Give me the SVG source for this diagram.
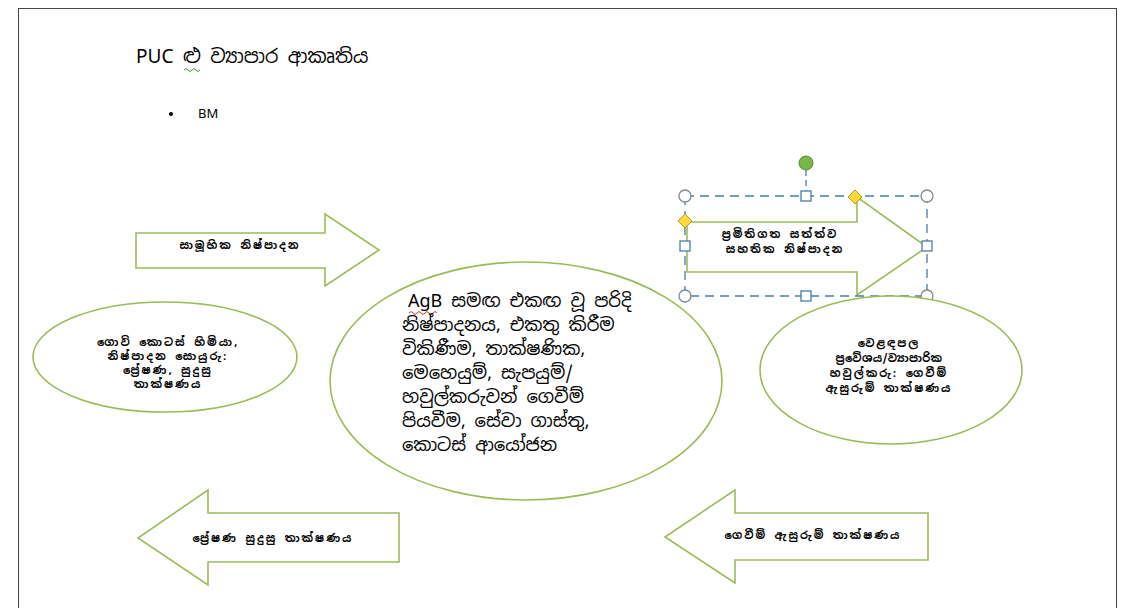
<svg xmlns="http://www.w3.org/2000/svg" width="1129" height="608" viewBox="0 0 1129 608">
<defs>
<style>
.shape{fill:#ffffff;stroke:#9bbb59;stroke-width:1.6}
.t{font-family:"Noto Sans Sinhala","Iskoola Pota","Noto Sans","DejaVu Sans",sans-serif;fill:#000}
.s{font-size:11px;font-weight:bold;text-anchor:middle;letter-spacing:2px}
.m{font-size:18px}
.sel{fill:none;stroke:#4a7ba7;stroke-width:1.3;stroke-dasharray:9 6}
.hc{fill:#fff;stroke:#7f8a94;stroke-width:1.3}
.hs{fill:#fff;stroke:#4a7ba7;stroke-width:1.3}
.hd{fill:#ffd83a;stroke:#b59a2a;stroke-width:1}
</style>
</defs>
<rect x="0" y="0" width="1129" height="608" fill="#ffffff"/>
<g id="frame" fill="none" stroke="#444" stroke-width="1">
<line x1="18" y1="8.5" x2="1117" y2="8.5"/>
<line x1="18.5" y1="8" x2="18.5" y2="608"/>
<line x1="1116.5" y1="8" x2="1116.5" y2="608"/>
</g>
<g id="title">
<text class="t" x="136" y="63" font-size="19">PUC ළු ව්‍යාපාර ආකෘතිය</text>
<path d="M184 70 q2 -3 4 0 t4 0 t4 0 t4 0" fill="none" stroke="#3a9a3a" stroke-width="1"/>
<circle cx="171" cy="114" r="2" fill="#000"/>
<text class="t" x="198" y="118" font-size="13">BM</text>
</g>
<g id="connectors"></g>
<g id="arrow-top-left">
<path class="shape" d="M136 233 H325 V214 L379 250 L325 286 V268 H136 Z"/>
<text class="t s" x="240" y="249">සාමූහික නිෂ්පාදන</text>
</g>
<g id="circle-left">
<ellipse class="shape" cx="165" cy="357" rx="132" ry="55"/>
<text class="t s" x="168" y="346">ගොවි කොටස් හිමියා,</text>
<text class="t s" x="168" y="360">නිෂ්පාදන සොයුරු:</text>
<text class="t s" x="168" y="374">ප්‍රේෂණ, සුදුසු</text>
<text class="t s" x="168" y="388">තාක්ෂණය</text>
</g>
<g id="circle-center">
<ellipse class="shape" cx="526" cy="381" rx="196" ry="119"/>
<text class="t m" x="408" y="307">AgB සමඟ එකඟ වූ පරිදි</text>
<path d="M409 313 q2 -3 4 0 t4 0 t4 0 t4 0 t4 0 t4 0 t4 0" fill="none" stroke="#e03030" stroke-width="1"/>
<text class="t m" x="402" y="331">නිෂ්පාදනය, එකතු කිරීම</text>
<text class="t m" x="402" y="355">විකිණීම, තාක්ෂණික,</text>
<text class="t m" x="402" y="379">මෙහෙයුම්, සැපයුම්/</text>
<text class="t m" x="402" y="403">හවුල්කරුවන් ගෙවීම්</text>
<text class="t m" x="402" y="427">පියවීම, සේවා ගාස්තු,</text>
<text class="t m" x="402" y="451">කොටස් ආයෝජන</text>
</g>
<g id="arrow-top-right">
<path class="shape" d="M687 222 H857 V197 L927 247 L857 295 V272 H687 Z"/>
<text class="t s" x="780" y="238">ප්‍රමිතිගත සත්ත්ව</text>
<text class="t s" x="785" y="253">සහතික නිෂ්පාදන</text>
</g>
<g id="selection">
<line x1="806" y1="170" x2="806" y2="196" stroke="#4a7ba7" stroke-width="1.3" stroke-dasharray="6 4"/>
<rect class="sel" x="685" y="196" width="242" height="100"/>
<circle cx="806" cy="163" r="7" fill="#7ab648" stroke="#5a8a30" stroke-width="1"/>
<circle class="hc" cx="685" cy="196" r="6"/>
<circle class="hc" cx="927" cy="196" r="6"/>
<circle class="hc" cx="685" cy="296" r="6"/>
<circle class="hc" cx="927" cy="296" r="6"/>
<rect class="hs" x="801" y="191" width="10" height="10"/>
<rect class="hs" x="801" y="291" width="10" height="10"/>
<rect class="hs" x="680" y="241" width="10" height="10"/>
<rect class="hs" x="922" y="241" width="10" height="10"/>
<path class="hd" d="M855 190 L862 197 L855 204 L848 197 Z"/>
<path class="hd" d="M685 214 L692 221 L685 228 L678 221 Z"/>
</g>
<g id="circle-right">
<ellipse class="shape" cx="891" cy="370" rx="131" ry="74"/>
<text class="t s" x="889" y="347">වෙළඳපල</text>
<text class="t s" x="889" y="362" style="letter-spacing:0.3px">ප්‍රවේශය/ව්‍යාපාරික</text>
<text class="t s" x="889" y="377">හවුල්කරු: ගෙවීම්</text>
<text class="t s" x="889" y="392">ඇසුරුම් තාක්ෂණය</text>
</g>
<g id="arrow-bottom-left">
<path class="shape" d="M399 513 H208 V490 L138 538 L208 585 V562 H399 Z"/>
<text class="t s" x="273" y="542">ප්‍රේෂණ සුදුසු තාක්ෂණය</text>
</g>
<g id="arrow-bottom-right">
<path class="shape" d="M928 513 H735 V490 L665 537 L735 583 V560 H928 Z"/>
<text class="t s" x="813" y="539">ගෙවීම් ඇසුරුම් තාක්ෂණය</text>
</g>
</svg>
